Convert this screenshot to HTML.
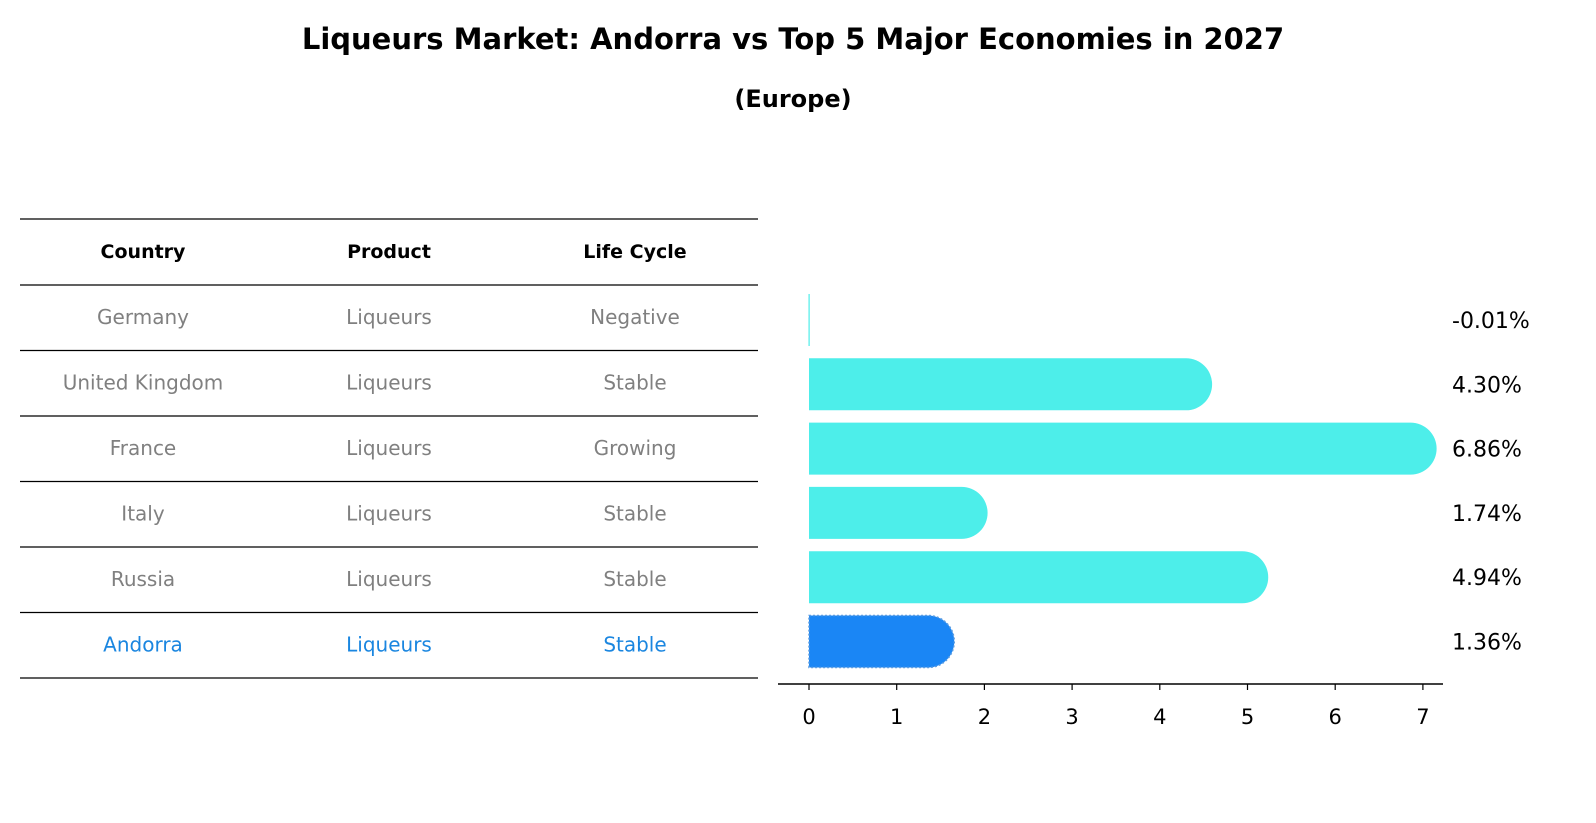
<!DOCTYPE html>
<html><head><meta charset="utf-8"><style>
body{margin:0;background:#fff;font-family:"Liberation Sans","DejaVu Sans",sans-serif;}
#wrap{position:relative;width:1596px;height:823px;overflow:hidden;}
</style></head><body>
<div id="wrap">
<svg id="svg" width="1596" height="823" xmlns="http://www.w3.org/2000/svg">
<text x="793" y="49" text-anchor="middle" font-size="29" font-weight="bold" font-family="DejaVu Sans, Liberation Sans, sans-serif">Liqueurs Market: Andorra vs Top 5 Major Economies in 2027</text>
<text x="793" y="107" text-anchor="middle" font-size="24" font-weight="bold" font-family="DejaVu Sans, Liberation Sans, sans-serif">(Europe)</text>
<g id="table"></g>
<g id="bars"></g>
</svg>
</div>
<script>
const countries=["Germany","United Kingdom","France","Italy","Russia","Andorra"];
const products=["Liqueurs","Liqueurs","Liqueurs","Liqueurs","Liqueurs","Liqueurs"];
const lifeCycles=["Negative","Stable","Growing","Stable","Stable","Stable"];
const growth=[-0.01,4.30,6.86,1.74,4.94,1.36];
const ticks=[0,1,2,3,4,5,6,7];

const NS="http://www.w3.org/2000/svg";
function mk(tag,attrs,parent,text){const e=document.createElementNS(NS,tag);for(const k in attrs)e.setAttribute(k,attrs[k]);if(text!==undefined)e.textContent=text;parent.appendChild(e);return e;}
const F="DejaVu Sans, Liberation Sans, sans-serif";
const tbl=document.getElementById('table');
const rowY=i=>285+i*65.5;
const colX=[143,389,635];
// header
["Country","Product","Life Cycle"].forEach((h,j)=>{
 const t=mk('text',{x:colX[j],y:258,'text-anchor':'middle','font-size':19,'font-weight':'bold','font-family':F},tbl,h);
 
 
});
for(let i=0;i<=countries.length+1;i++){
 const y=i===0?219:rowY(i-1);
 const l=mk('line',{x1:20,x2:758,y1:y,y2:y,stroke:'#000','stroke-width':1.2},tbl);
 
 
}
countries.forEach((c,i)=>{
 const col=i===countries.length-1?'#1a86e0':'#808080';
 const y=rowY(i)+39;
 [c,products[i],lifeCycles[i]].forEach((v,j)=>{
  const t=mk('text',{x:colX[j],y:y,'text-anchor':'middle','font-size':20,fill:col,'font-family':F},tbl,v);
  
  
 });
});
// bars
const g=document.getElementById('bars');
const x0=809,ppu=87.7;
const xs=v=>x0+v*ppu;
const yc=i=>320+i*64.3;
const bh=52,r=26;
growth.forEach((v,i)=>{
 const isA=i===growth.length-1;
 const col=isA?'#1a86f5':'#4deeea';
 const top=yc(i)-bh/2;
 if(Math.abs(v)<0.05){
  const l=mk('rect',{x:xs(0)-0.5,y:top,width:1.2,height:bh,fill:col},g);
  
  
 } else {
  const xe=xs(v);
  const p=mk('path',{d:`M${xs(0)},${top} L${xe},${top} A${r},${r} 0 0 1 ${xe},${top+bh} L${xs(0)},${top+bh} Z`,fill:col},g);
  if(isA){p.setAttribute('stroke','#5a9be0');p.setAttribute('stroke-dasharray','2,2');p.setAttribute('stroke-width','1.5');}
  
  
 }
 const t=mk('text',{x:1452,y:yc(i)+8,'font-size':22,'font-family':F},g,v.toFixed(2)+'%');
 
 
});
const ax=mk('line',{x1:778,x2:1443,y1:684,y2:684,stroke:'#000','stroke-width':1.5},g);


ticks.forEach(tv=>{
 const tk=mk('line',{x1:xs(tv),x2:xs(tv),y1:684,y2:690,stroke:'#000','stroke-width':1.2},g);
 
 
 const tl=mk('text',{x:xs(tv),y:724,'text-anchor':'middle','font-size':21,'font-family':F},g,String(tv));
 
 
});
</script>
</body></html>
